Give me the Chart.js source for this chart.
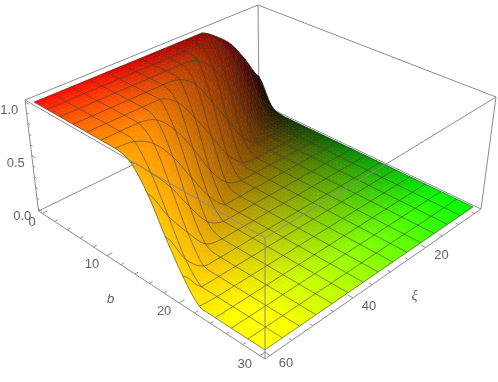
<!DOCTYPE html>
<html>
<head>
<meta charset="utf-8">
<style>
  html, body { margin: 0; padding: 0; background: #fff; }
  canvas { display: block; }
</style>
<script src="https://cdn.jsdelivr.net/npm/chart.js@4"></script>
</head>
<body>
<canvas id="chart" width="498" height="382"></canvas>
<script>
// mesh lines of the surface
const bValues = [0, 2, 4, 6, 8, 10, 12, 14, 16, 18, 20, 22, 24, 26, 28, 30];
const xiValues = [4, 8, 12, 16, 20, 24, 28, 32, 36, 40, 44, 48, 52, 56, 60];

// height, one row per xi value, one column per b value
const zRows = [
  [.3, .05, 0, 0, 0, 0, 0, 0, 0, 0, 0, 0, 0, 0, 0, 0],
  [.54, .2, .01, 0, 0, 0, 0, 0, 0, 0, 0, 0, 0, 0, 0, 0],
  [.76, .44, .08, 0, 0, 0, 0, 0, 0, 0, 0, 0, 0, 0, 0, 0],
  [.9, .75, .29, .01, 0, 0, 0, 0, 0, 0, 0, 0, 0, 0, 0, 0],
  [1, .95, .58, .13, 0, 0, 0, 0, 0, 0, 0, 0, 0, 0, 0, 0],
  [1, 1, .82, .37, .03, 0, 0, 0, 0, 0, 0, 0, 0, 0, 0, 0],
  [1, 1, .97, .62, .18, 0, 0, 0, 0, 0, 0, 0, 0, 0, 0, 0],
  [1, 1, 1, .86, .43, .06, 0, 0, 0, 0, 0, 0, 0, 0, 0, 0],
  [1, 1, 1, .98, .68, .25, 0, 0, 0, 0, 0, 0, 0, 0, 0, 0],
  [1, 1, 1, 1, .9, .53, .16, 0, 0, 0, 0, 0, 0, 0, 0, 0],
  [1, 1, 1, 1, 1, .78, .41, .08, 0, 0, 0, 0, 0, 0, 0, 0],
  [1, 1, 1, 1, 1, .95, .68, .3, .04, 0, 0, 0, 0, 0, 0, 0],
  [1, 1, 1, 1, 1, 1, .88, .56, .23, .01, 0, 0, 0, 0, 0, 0],
  [1, 1, 1, 1, 1, 1, .98, .77, .46, .16, 0, 0, 0, 0, 0, 0],
  [1, 1, 1, 1, 1, 1, 1, .95, .75, .45, .19, .01, 0, 0, 0, 0]
];

const bTicks = [0, 10, 20, 30];
const bMinorTicks = [2, 4, 6, 8, 12, 14, 16, 18, 22, 24, 26, 28];
const xiTicks = [20, 40, 60];
const xiMinorTicks = [5, 10, 15, 25, 30, 35, 45, 50, 55];
const zTicks = [0, 0.5, 1];
const zMinorTicks = [.1, .2, .3, .4, .6, .7, .8, .9];

// plot box
const bRange = [-0.6, 30.6];
const xiRange = [2.88, 61.12];
const zRange = [-0.02, 1.02];

// corners of the box on the picture: (bmin,ximax) (bmax,ximax) (bmax,ximin) (bmin,ximin)
const topCorners = [[25, 100], [265, 238], [496, 97], [258, 5]];
const bottomCorners = [[38.5, 211], [265, 359], [481, 209], [259, 103]];

const SUB = 4;
const GREY = "rgb(140,140,140)";
const TEXT = "rgb(100,100,100)";
const MESH = "rgba(55,55,55,0.7)";

function homography(q) {
  let dx1 = q[1][0] - q[2][0], dx2 = q[3][0] - q[2][0], sx = q[0][0] - q[1][0] + q[2][0] - q[3][0];
  let dy1 = q[1][1] - q[2][1], dy2 = q[3][1] - q[2][1], sy = q[0][1] - q[1][1] + q[2][1] - q[3][1];
  let den = dx1 * dy2 - dx2 * dy1;
  let g = (sx * dy2 - dx2 * sy) / den, h = (dx1 * sy - sx * dy1) / den;
  return function (u, v) {
    let w = g * u + h * v + 1;
    return [
      ((q[1][0] - q[0][0] + g * q[1][0]) * u + (q[3][0] - q[0][0] + h * q[3][0]) * v + q[0][0]) / w,
      ((q[1][1] - q[0][1] + g * q[1][1]) * u + (q[3][1] - q[0][1] + h * q[3][1]) * v + q[0][1]) / w
    ];
  };
}
const topPlane = homography(topCorners);
const bottomPlane = homography(bottomCorners);

function project(b, xi, z) {
  let u = (b - bRange[0]) / (bRange[1] - bRange[0]);
  let v = (xiRange[1] - xi) / (xiRange[1] - xiRange[0]);
  let w = (z - zRange[0]) / (zRange[1] - zRange[0]);
  let t = topPlane(u, v), p = bottomPlane(u, v);
  return { x: p[0] + (t[0] - p[0]) * w, y: p[1] + (t[1] - p[1]) * w };
}

// rounding between the mesh crossings so the cells are not flat facets
function catmull(a, b, c, d, t) {
  return b + 0.5 * t * (c - a + t * (2 * a - 5 * b + 4 * c - d + t * (3 * (b - c) + d - a)));
}
function rowZ(i, j, s) {
  let r = zRows[i], n = r.length - 1;
  return catmull(r[Math.max(j - 1, 0)], r[j], r[Math.min(j + 1, n)], r[Math.min(j + 2, n)], s);
}
function cellZ(i, j, s, t) {
  let n = zRows.length - 1;
  if (j >= bValues.length - 1) { j = bValues.length - 2; s = 1; }
  if (i >= n) { i = n - 1; t = 1; }
  let v = catmull(rowZ(Math.max(i - 1, 0), j, s), rowZ(i, j, s), rowZ(i + 1, j, s), rowZ(Math.min(i + 2, n), j, s), t);
  return Math.min(1, Math.max(0, v));
}

function lineSet(points, color, width) {
  return { data: points, showLine: true, pointRadius: 0, borderColor: color, borderWidth: width, fill: false, tension: 0 };
}

let backSets = [];   // box edges behind the surface
let surfaceSets = [];
let frontSets = [];

let xiLo = xiValues[0], xiHi = xiValues[xiValues.length - 1];
let bHi = bValues[bValues.length - 1];
let bAt = (j, s) => bValues[j] + (bValues[Math.min(j + 1, bValues.length - 1)] - bValues[j]) * s;
let xiAt = (i, t) => xiValues[i] + (xiValues[Math.min(i + 1, xiValues.length - 1)] - xiValues[i]) * t;

// red grows with xi, green with b, each a little stronger where the other is strong
function surfaceColor(b, xi) {
  let s = b / bHi, t = (xi - xiLo) / (xiHi - xiLo);
  let red = Math.round(255 * Math.min(1, 1.12 * Math.pow(t, 1 - 0.45 * (1 - s))));
  let green = Math.round(255 * Math.min(1, 1.12 * Math.pow(s, 1 - 0.33 * t)));
  return `rgb(${red},${green},0)`;
}

for (let i = 0; i < xiValues.length - 1; i++) {
  for (let j = 0; j < bValues.length - 1; j++) {
    for (let m = 0; m < SUB; m++) {
      for (let n = 0; n < SUB; n++) {
        let s0 = n / SUB, s1 = (n + 1) / SUB, t0 = m / SUB, t1 = (m + 1) / SUB;
        let pts = [[s0, t0], [s1, t0], [s1, t1], [s0, t1], [s0, t0]].map(c =>
          project(bAt(j, c[0]), xiAt(i, c[1]), cellZ(i, j, c[0], c[1])));
        let col = surfaceColor(bAt(j, (s0 + s1) / 2), xiAt(i, (t0 + t1) / 2));
        surfaceSets.push({
          data: pts, showLine: true, pointRadius: 0, tension: 0,
          borderColor: col, borderWidth: 0.6, backgroundColor: col, fill: "shape"
        });
      }
    }
  }
}

// mesh
xiValues.forEach((xi, i) => {
  let pts = [];
  for (let j = 0; j < bValues.length - 1; j++) {
    for (let n = 0; n < SUB; n++) pts.push(project(bAt(j, n / SUB), xi, cellZ(i, j, n / SUB, 0)));
  }
  pts.push(project(bHi, xi, zRows[i][bValues.length - 1]));
  frontSets.push(lineSet(pts, MESH, 0.8));
});
bValues.forEach((b, j) => {
  let pts = [];
  for (let i = 0; i < xiValues.length - 1; i++) {
    for (let m = 0; m < SUB; m++) pts.push(project(b, xiAt(i, m / SUB), cellZ(i, j, 0, m / SUB)));
  }
  pts.push(project(b, xiHi, zRows[xiValues.length - 1][j]));
  frontSets.push(lineSet(pts, MESH, 0.8));
});

// box
function edge(list, a, b) {
  list.push(lineSet([project(a[0], a[1], a[2]), project(b[0], b[1], b[2])], GREY, 1));
}
let bA = bRange[0], bB = bRange[1], xA = xiRange[0], xB = xiRange[1], zA = zRange[0], zB = zRange[1];
edge(backSets, [bA, xB, zA], [bA, xA, zA]);
edge(backSets, [bA, xA, zA], [bB, xA, zA]);
edge(backSets, [bA, xA, zA], [bA, xA, zB]);
edge(backSets, [bA, xB, zB], [bA, xA, zB]);
edge(backSets, [bA, xA, zB], [bB, xA, zB]);
edge(frontSets, [bA, xB, zB], [bB, xB, zB]);
edge(frontSets, [bB, xB, zB], [bB, xA, zB]);
edge(frontSets, [bB, xB, zA], [bB, xB, zB]);
edge(frontSets, [bA, xB, zA], [bA, xB, zB]);
edge(frontSets, [bB, xA, zA], [bB, xA, zB]);
edge(frontSets, [bA, xB, zA], [bB, xB, zA]);
edge(frontSets, [bB, xB, zA], [bB, xA, zA]);

// ticks along the three axes
bTicks.forEach(b => edge(frontSets, [b, xB, zA], [b, xB - 1.2, zA]));
bMinorTicks.forEach(b => edge(frontSets, [b, xB, zA], [b, xB - 0.7, zA]));
xiTicks.forEach(x => edge(frontSets, [bB, x, zA], [bB - 0.6, x, zA]));
xiMinorTicks.forEach(x => edge(frontSets, [bB, x, zA], [bB - 0.35, x, zA]));
zTicks.forEach(z => edge(frontSets, [bA, xB, z], [bA + 0.6, xB, z]));
zMinorTicks.forEach(z => edge(frontSets, [bA, xB, z], [bA + 0.35, xB, z]));

// first dataset is painted last in Chart.js
const datasets = backSets.concat(surfaceSets, frontSets).reverse();

const axisLabels = {
  id: "axisLabels",
  afterDraw(chart) {
    let ctx = chart.ctx, sx = chart.scales.x, sy = chart.scales.y;
    let put = (text, p, dx, dy, font) => {
      ctx.font = font || "13px 'Liberation Sans'";
      ctx.fillStyle = TEXT;
      ctx.textAlign = "center";
      ctx.textBaseline = "middle";
      ctx.fillText(text, sx.getPixelForValue(p.x) + dx, sy.getPixelForValue(p.y) + dy);
    };
    bTicks.forEach(b => put(String(b), project(b, xB, zA), b === 0 ? -10 : -15, 9));
    xiTicks.forEach(x => put(String(x), project(bB, x, zA), 16, 8));
    zTicks.forEach(z => put(z.toFixed(1), project(bA, xB, z), -16, 8));
    put("b", project(15, xB, zA), -31.5, 21, "italic 13px 'Liberation Sans'");
    put("ξ", project(bB, 33, zA), 35, 17, "italic 14px 'Liberation Serif'");
  }
};

new Chart(document.getElementById("chart"), {
  type: "scatter",
  data: { datasets: datasets },
  plugins: [axisLabels],
  options: {
    responsive: false,
    animation: false,
    events: [],
    layout: { padding: 0 },
    plugins: { legend: { display: false }, tooltip: { enabled: false }, title: { display: false } },
    scales: {
      x: { type: "linear", display: false, min: 0, max: 498 },
      y: { type: "linear", display: false, min: 0, max: 382, reverse: true }
    }
  }
});
</script>
</body>
</html>
